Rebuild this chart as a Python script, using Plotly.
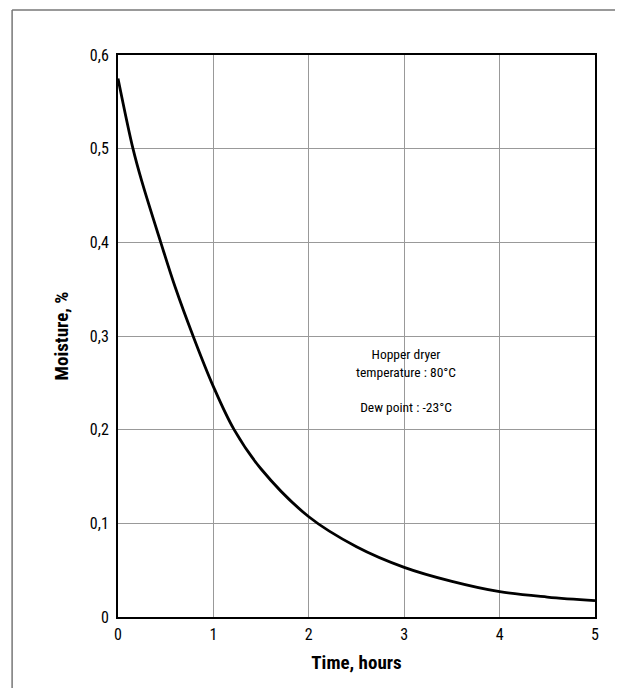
import plotly.graph_objects as go

time_h = [0, 0.157, 0.25, 0.448, 0.6, 0.787, 1.0, 1.217, 1.5, 2.0, 2.5, 3.0, 3.5, 4.0, 4.5, 5.0]
moisture = [0.575, 0.5, 0.465, 0.4, 0.352, 0.3, 0.246, 0.2, 0.158, 0.107, 0.075, 0.053, 0.038, 0.027, 0.0213, 0.0175]

x_ticks = [0, 1, 2, 3, 4, 5]
y_ticks = [0, 0.1, 0.2, 0.3, 0.4, 0.5, 0.6]
y_ticklabels = ["0", "0,1", "0,2", "0,3", "0,4", "0,5", "0,6"]

FONT = "Liberation Sans Narrow, Arial Narrow, Roboto Condensed, Roboto, sans-serif"

fig = go.Figure()
fig.add_trace(go.Scatter(x=time_h, y=moisture, mode="lines",
                         line=dict(color="black", width=2.8, shape="spline", smoothing=1.0),
                         hoverinfo="skip", showlegend=False))

fig.update_layout(
    width=607, height=680,
    margin=dict(l=110, r=20, t=47, b=71),
    paper_bgcolor="white", plot_bgcolor="white",
    font=dict(family=FONT, size=16, color="black"),
    showlegend=False,
    xaxis=dict(range=[0, 5], tickvals=x_ticks, ticks="", showgrid=True,
               gridcolor="#999999", gridwidth=1, zeroline=False,
               showline=True, linecolor="black", linewidth=2, mirror=True,
               tickfont=dict(size=16), ticklabelstandoff=2,
               title=dict(text="<b>Time, hours</b>", font=dict(size=19), standoff=12)),
    yaxis=dict(range=[0, 0.6], tickvals=y_ticks, ticktext=y_ticklabels, ticks="",
               showgrid=True, gridcolor="#999999", gridwidth=1, zeroline=False,
               showline=True, linecolor="black", linewidth=2, mirror=True,
               tickfont=dict(size=16), ticklabelstandoff=4,
               title=dict(text="<b>Moisture, %</b>", font=dict(size=19), standoff=16)),
    shapes=[
        dict(type="line", xref="paper", yref="paper", x0=-0.222, y0=-0.3, x1=-0.222, y1=1.08,
             line=dict(color="#777777", width=1.5), layer="below"),
        dict(type="line", xref="paper", yref="paper", x0=-0.222, y0=1.08, x1=1.3, y1=1.08,
             line=dict(color="#777777", width=1.5), layer="below"),
    ],
    annotations=[dict(x=3.02, y=0.252, xref="x", yref="y",
                      text="Hopper dryer<br>temperature : 80°C<br><br>Dew point : -23°C",
                      showarrow=False, align="center", yanchor="middle",
                      font=dict(family=FONT, size=13.5, color="black"))],
)

fig.write_html("out.html")
